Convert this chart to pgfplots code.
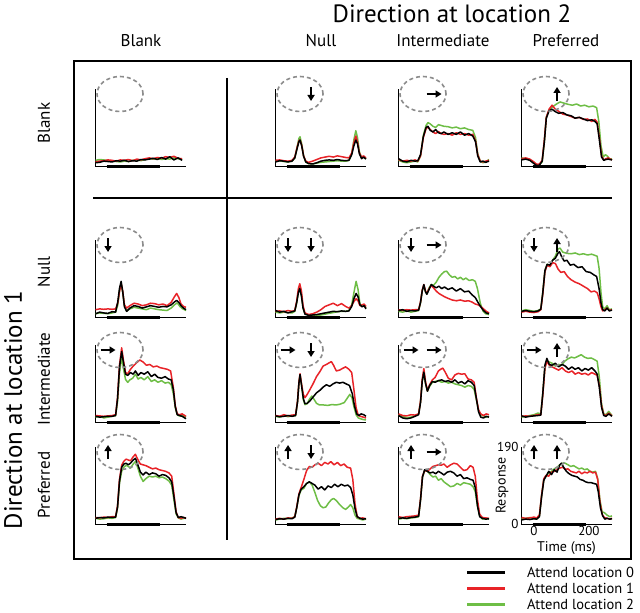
\documentclass[border=0pt]{standalone}
\usepackage{fontspec}
\setmainfont{PT Sans}
\usepackage{pgfplots}
\pgfplotsset{compat=1.18}
\usetikzlibrary{arrows.meta}
\definecolor{rd}{RGB}{232,35,40}
\definecolor{gn}{RGB}{110,190,70}
\definecolor{gy}{RGB}{140,140,140}
\pgfplotsset{
  panel/.style={anchor=south west, scale only axis, width=91pt, height=77pt,
    xmin=-47, xmax=284, ymin=0, ymax=190,
    axis x line*=bottom, axis y line*=left,
    axis line style={line width=0.7pt,-},
    xtick=\empty, ytick=\empty, clip=false},
  G/.style={gn, line width=1.5pt, mark=none, line join=round},
  R/.style={rd, line width=1.5pt, mark=none, line join=round},
  K/.style={black, line width=1.5pt, mark=none, line join=round},
  S/.style={black, line width=3.5pt, mark=none},
}
\tikzset{
  ell/.style={gy, line width=1.6pt, dash pattern=on 4pt off 3pt},
  arr/.style={line width=1.8pt, -{Triangle[length=6pt,width=7pt]}},
}
\newcommand\Ell{\draw[ell] (rel axis cs:0.275,0.935) ellipse [x radius=23pt, y radius=17.5pt];}
\newcommand\aD[1]{\draw[arr] ([yshift=7pt]rel axis cs:#1,0.935) -- ([yshift=-7pt]rel axis cs:#1,0.935);}
\newcommand\aU[1]{\draw[arr] ([yshift=-7pt]rel axis cs:#1,0.935) -- ([yshift=7pt]rel axis cs:#1,0.935);}
\newcommand\aR[1]{\draw[arr] ([xshift=-7.5pt]rel axis cs:#1,0.935) -- ([xshift=7.5pt]rel axis cs:#1,0.935);}
\newcommand\Stim{\addplot[S] coordinates {(-5,-1)(190,-1)};}
\newcommand\hd{\fontsize{17}{20}\selectfont}
\newcommand\bigt{\fontsize{25}{28}\selectfont}
\begin{document}
\begin{tikzpicture}[x=1pt,y=1pt]
\useasboundingbox (0,0) rectangle (640,613);
\draw[line width=2pt] (74,54) rectangle (631,552);
\draw[line width=1.8pt] (93,415) -- (612,415);
\draw[line width=1.8pt] (227,535) -- (227,73);
\node at (452,599) {\bigt Direction at location 2};
\node at (141,572) {\hd Blank};
\node at (321,572) {\hd Null};
\node at (443,572) {\hd Intermediate};
\node at (566,572) {\hd Preferred};
\node[rotate=90] at (44,490) {\hd Blank};
\node[rotate=90] at (44,341) {\hd Null};
\node[rotate=90] at (44,234) {\hd Intermediate};
\node[rotate=90] at (44,128) {\hd Preferred};
\node[rotate=90] at (13,203) {\bigt Direction at location 1};
% legend
\draw[line width=3pt,black] (467,40) -- (505,40);
\draw[line width=3pt,rd] (467,24) -- (505,24);
\draw[line width=3pt,gn] (467,8) -- (505,8);
\node[anchor=base west,inner sep=0pt] at (527,35) {\fontsize{14.5}{16}\selectfont Attend location 0};
\node[anchor=base west,inner sep=0pt] at (527,19) {\fontsize{14.5}{16}\selectfont Attend location 1};
\node[anchor=base west,inner sep=0pt] at (527,3) {\fontsize{14.5}{16}\selectfont Attend location 2};

% ===== Row 1: location 1 blank =====
\begin{axis}[panel, at={(95pt,447pt)}]
\addplot[G] coordinates {(-45,14)(-30,16)(-15,15)(0,13)(15,12)(30,11)(45,10)(60,12)(75,11)(90,14)(105,15)(120,13)(135,16)(150,18)(165,17)(180,19)(195,16)(210,18)(225,17)(240,20)(255,18)(270,16)};
\addplot[R] coordinates {(-45,10)(-30,12)(-15,13)(0,15)(15,14)(30,12)(45,15)(60,14)(75,16)(90,13)(105,17)(120,15)(135,18)(150,20)(165,18)(180,21)(195,19)(210,23)(225,21)(240,24)(255,19)(270,18)};
\addplot[K] coordinates {(-45,8)(-30,9)(-15,12)(0,11)(15,10)(30,13)(45,12)(60,14)(75,11)(90,13)(105,12)(120,16)(135,15)(150,17)(165,19)(180,16)(195,21)(210,17)(225,23)(240,15)(255,20)(270,14)};
\Stim \Ell
\end{axis}

\begin{axis}[panel, at={(275pt,447pt)}]
\addplot[G] coordinates {(-45,12)(-30,13)(-15,11)(0,10)(15,12)(25,20)(33,45)(40,68)(44,72)(50,55)(57,25)(65,10)(75,6)(90,5)(105,7)(120,9)(135,10)(150,11)(165,12)(180,13)(195,12)(210,12)(222,14)(232,30)(240,65)(247,87)(253,70)(260,35)(268,20)(275,22)(284,18)};
\addplot[R] coordinates {(-45,14)(-30,15)(-15,13)(0,12)(15,14)(25,22)(33,45)(40,62)(44,64)(50,52)(57,25)(65,12)(75,9)(90,12)(105,16)(120,20)(135,22)(150,24)(165,22)(180,25)(195,23)(210,21)(222,20)(232,32)(240,58)(247,74)(253,60)(260,32)(268,22)(275,25)(284,20)};
\addplot[K] coordinates {(-45,10)(-30,13)(-15,12)(0,10)(15,12)(25,20)(33,42)(40,60)(44,64)(50,50)(57,24)(65,10)(75,6)(90,5)(105,8)(120,12)(135,14)(150,15)(165,14)(180,16)(195,14)(210,13)(222,14)(232,28)(240,50)(247,64)(253,55)(260,30)(268,18)(275,22)(284,17)};
\Stim \Ell \aD{0.396}
\end{axis}

\begin{axis}[panel, at={(398pt,447pt)}]
\addplot[G] coordinates {(-45,14)(-30,10)(-15,8)(0,10)(15,12)(25,10)(35,25)(45,75)(55,100)(62,107)(70,104)(80,98)(90,95)(100,102)(110,100)(120,98)(135,97)(150,94)(165,96)(180,92)(195,94)(210,90)(225,88)(235,70)(243,30)(252,12)(262,8)(272,10)(284,16)};
\addplot[R] coordinates {(-45,16)(-30,12)(-15,14)(0,12)(15,15)(25,12)(35,25)(45,70)(55,92)(62,96)(70,90)(80,84)(90,80)(100,85)(110,80)(120,78)(135,80)(150,76)(165,82)(180,78)(195,80)(210,76)(225,78)(235,62)(243,28)(252,12)(262,10)(272,12)(284,14)};
\addplot[K] coordinates {(-45,18)(-30,12)(-15,10)(0,14)(15,12)(25,13)(35,28)(45,72)(55,95)(62,98)(70,88)(80,84)(90,90)(100,82)(110,80)(120,84)(135,78)(150,82)(165,78)(180,84)(195,76)(210,80)(225,74)(235,60)(243,25)(252,10)(262,12)(272,9)(284,12)};
\Stim \Ell \aR{0.396}
\end{axis}

\begin{axis}[panel, at={(521pt,447pt)}]
\addplot[G] coordinates {(-45,20)(-30,18)(-15,15)(0,8)(10,3)(20,3)(30,10)(38,60)(45,120)(55,138)(66,145)(80,152)(95,158)(110,155)(125,152)(140,150)(155,153)(170,148)(185,150)(200,146)(215,148)(228,144)(236,110)(244,50)(252,22)(260,28)(268,24)(276,16)(284,18)};
\addplot[R] coordinates {(-45,18)(-30,20)(-15,17)(0,10)(10,4)(20,5)(30,14)(38,65)(45,120)(55,140)(66,150)(78,140)(90,135)(105,128)(120,126)(135,122)(150,118)(165,120)(180,115)(195,116)(210,110)(222,115)(230,108)(238,70)(246,25)(254,15)(262,18)(270,20)(284,15)};
\addplot[K] coordinates {(-45,15)(-30,17)(-15,14)(0,6)(10,1)(20,2)(30,12)(38,60)(45,118)(55,136)(66,140)(78,134)(90,130)(105,132)(120,126)(135,124)(150,118)(165,120)(180,116)(195,112)(210,114)(222,110)(230,104)(238,65)(246,22)(254,14)(262,16)(270,17)(284,15)};
\Stim \Ell \aU{0.396}
\end{axis}

% ===== Row 2: location 1 null =====
\begin{axis}[panel, at={(95pt,296pt)}]
\addplot[G] coordinates {(-45,8)(-30,10)(-15,9)(0,8)(15,10)(28,12)(36,30)(42,65)(48,82)(54,60)(60,28)(68,15)(80,20)(95,24)(110,22)(125,20)(140,18)(155,22)(170,20)(185,18)(200,17)(215,16)(230,22)(242,30)(252,35)(262,26)(272,20)(284,16)};
\addplot[R] coordinates {(-45,18)(-30,20)(-15,19)(0,20)(15,19)(28,20)(36,35)(42,62)(48,83)(54,62)(60,30)(68,22)(80,28)(95,34)(110,32)(125,28)(140,30)(155,34)(170,33)(185,30)(200,32)(215,28)(230,36)(242,50)(250,58)(258,48)(266,32)(275,26)(284,24)};
\addplot[K] coordinates {(-45,8)(-30,12)(-15,10)(0,9)(15,13)(28,12)(36,38)(42,70)(48,88)(54,62)(60,25)(68,14)(80,22)(95,28)(110,26)(125,22)(140,25)(155,28)(170,26)(185,24)(200,26)(215,25)(230,30)(242,37)(250,41)(258,36)(266,28)(275,22)(284,18)};
\Stim \Ell \aD{0.143}
\end{axis}

\begin{axis}[panel, at={(275pt,296pt)}]
\addplot[G] coordinates {(-45,12)(-30,10)(-15,12)(0,11)(15,10)(25,14)(32,35)(38,62)(43,74)(49,55)(55,22)(62,8)(75,5)(90,4)(105,4)(120,5)(135,7)(150,9)(165,11)(180,13)(195,14)(210,14)(222,16)(232,30)(240,60)(248,88)(255,68)(262,32)(270,28)(277,30)(284,22)};
\addplot[R] coordinates {(-45,14)(-30,15)(-15,13)(0,16)(15,14)(25,16)(32,40)(38,70)(43,82)(49,65)(55,28)(62,10)(75,6)(90,8)(105,12)(120,18)(135,26)(150,30)(165,34)(180,28)(195,33)(210,26)(222,22)(232,28)(240,38)(248,45)(255,40)(262,28)(270,30)(277,32)(284,26)};
\addplot[K] coordinates {(-45,16)(-30,12)(-15,14)(0,10)(15,13)(25,15)(32,36)(38,60)(43,70)(49,52)(55,22)(62,7)(75,4)(90,5)(105,6)(120,8)(135,10)(150,12)(165,14)(180,13)(195,15)(210,14)(222,15)(232,26)(240,45)(248,58)(255,50)(262,30)(270,25)(277,28)(284,20)};
\Stim \Ell \aD{0.143} \aD{0.396}
\end{axis}

\begin{axis}[panel, at={(398pt,296pt)}]
\addplot[G] coordinates {(-45,14)(-30,12)(-15,15)(0,12)(15,14)(28,16)(35,35)(41,65)(47,78)(53,62)(58,58)(66,72)(74,80)(82,78)(92,86)(102,98)(112,106)(122,112)(130,113)(140,104)(150,98)(160,100)(170,94)(180,98)(190,92)(200,96)(212,90)(224,92)(234,88)(242,70)(252,35)(262,15)(272,8)(284,6)};
\addplot[R] coordinates {(-45,18)(-30,16)(-15,18)(0,17)(15,18)(28,18)(35,38)(41,66)(47,80)(53,64)(58,58)(66,70)(74,78)(82,72)(92,64)(102,58)(112,54)(122,50)(135,46)(150,42)(165,40)(180,42)(195,39)(210,40)(222,37)(234,32)(244,30)(254,26)(264,20)(274,14)(284,10)};
\addplot[K] coordinates {(-45,16)(-30,18)(-15,14)(0,16)(15,15)(28,17)(35,36)(41,64)(47,80)(53,62)(58,56)(66,68)(74,80)(82,76)(92,72)(102,76)(112,70)(122,74)(135,68)(150,72)(165,64)(180,70)(195,62)(210,64)(222,55)(234,48)(244,36)(254,25)(264,16)(274,10)(284,8)};
\Stim \Ell \aD{0.143} \aR{0.396}
\end{axis}

\begin{axis}[panel, at={(521pt,296pt)}]
\addplot[G] coordinates {(-45,15)(-30,18)(-15,16)(0,14)(15,16)(25,20)(32,60)(40,115)(48,130)(58,126)(68,140)(78,150)(88,168)(95,170)(105,160)(120,157)(135,156)(150,158)(165,154)(180,156)(195,153)(210,155)(222,152)(230,150)(237,120)(244,60)(250,25)(258,20)(266,28)(274,18)(284,20)};
\addplot[R] coordinates {(-45,12)(-30,14)(-15,12)(0,11)(15,13)(25,18)(32,55)(40,112)(48,128)(58,124)(68,134)(78,132)(88,118)(98,110)(110,112)(122,100)(135,92)(150,86)(165,82)(180,76)(195,70)(208,62)(220,64)(230,60)(237,45)(244,25)(250,15)(258,18)(266,22)(274,16)(284,18)};
\addplot[K] coordinates {(-45,14)(-30,16)(-15,14)(0,13)(15,15)(25,19)(32,58)(40,114)(48,130)(58,128)(68,140)(78,145)(88,158)(93,161)(100,150)(110,138)(120,140)(132,128)(145,130)(160,122)(175,124)(190,112)(205,110)(218,104)(228,100)(237,70)(244,35)(250,18)(258,15)(266,22)(274,15)(284,17)};
\Stim \Ell \aD{0.143} \aU{0.396}
\end{axis}

% ===== Row 3: location 1 intermediate =====
\begin{axis}[panel, at={(95pt,191pt)}]
\addplot[G] coordinates {(-45,12)(-30,14)(-15,10)(0,12)(15,14)(28,16)(35,50)(42,120)(50,161)(57,130)(64,105)(72,98)(80,104)(90,108)(100,118)(110,106)(120,110)(132,104)(145,112)(158,100)(170,104)(182,98)(195,102)(208,96)(220,98)(230,92)(238,70)(245,35)(252,18)(260,15)(270,16)(284,12)};
\addplot[R] coordinates {(-45,16)(-30,15)(-15,14)(0,15)(15,16)(28,18)(35,60)(42,140)(50,183)(57,150)(64,122)(72,119)(82,130)(92,138)(104,146)(116,153)(128,148)(140,140)(152,142)(165,136)(178,138)(190,134)(204,132)(216,130)(228,126)(238,85)(245,40)(252,20)(260,18)(270,20)(284,14)};
\addplot[K] coordinates {(-45,14)(-30,12)(-15,13)(0,14)(15,14)(28,16)(35,58)(42,135)(50,174)(57,145)(64,118)(72,115)(82,122)(92,118)(100,126)(110,115)(120,122)(132,118)(145,124)(158,112)(170,118)(182,110)(195,108)(208,112)(220,106)(230,104)(238,80)(245,38)(252,18)(260,16)(270,14)(284,8)};
\Stim \Ell \aR{0.143}
\end{axis}

\begin{axis}[panel, at={(275pt,191pt)}]
\addplot[G] coordinates {(-45,14)(-30,12)(-15,16)(0,13)(15,15)(28,16)(35,50)(40,95)(44,116)(50,90)(56,55)(62,43)(70,45)(78,56)(87,64)(95,56)(104,46)(115,42)(130,42)(145,41)(160,43)(175,42)(190,44)(205,48)(215,58)(225,68)(233,60)(240,38)(248,18)(256,10)(264,8)(274,6)(284,5)};
\addplot[R] coordinates {(-45,16)(-30,14)(-15,18)(0,15)(15,17)(28,18)(35,52)(40,98)(44,119)(50,92)(56,68)(62,60)(70,68)(80,80)(92,95)(104,112)(116,124)(128,138)(140,142)(150,146)(158,149)(166,140)(176,126)(188,128)(198,132)(210,136)(222,130)(232,122)(240,80)(248,35)(256,16)(264,14)(274,12)(284,10)};
\addplot[K] coordinates {(-45,15)(-30,13)(-15,14)(0,16)(15,14)(28,16)(35,50)(40,96)(44,117)(50,88)(56,58)(62,45)(70,46)(80,52)(92,62)(104,72)(116,78)(128,86)(140,92)(152,88)(164,94)(176,98)(188,96)(200,98)(212,94)(224,90)(234,70)(242,40)(250,20)(258,16)(266,20)(276,18)(284,14)};
\Stim \Ell \aR{0.143} \aD{0.396}
\end{axis}

\begin{axis}[panel, at={(398pt,191pt)}]
\addplot[G] coordinates {(-45,18)(-30,14)(-15,10)(0,12)(15,15)(28,20)(35,50)(41,100)(47,124)(53,95)(60,76)(68,88)(78,98)(88,100)(100,102)(112,98)(124,100)(136,96)(148,98)(160,94)(172,92)(184,90)(196,86)(208,90)(220,88)(230,80)(238,55)(246,28)(254,18)(264,15)(274,12)(284,14)};
\addplot[R] coordinates {(-45,20)(-30,16)(-15,15)(0,18)(15,17)(28,20)(35,52)(41,105)(47,132)(53,100)(60,77)(68,92)(78,104)(88,110)(100,126)(108,130)(116,133)(124,124)(136,108)(148,104)(160,116)(172,120)(184,118)(196,119)(208,106)(220,104)(230,98)(238,60)(246,30)(254,20)(264,16)(274,20)(284,18)};
\addplot[K] coordinates {(-45,16)(-30,10)(-15,8)(0,10)(15,14)(28,18)(35,48)(41,100)(47,123)(53,96)(60,76)(68,90)(78,100)(88,98)(100,102)(112,104)(124,100)(136,102)(148,98)(160,104)(172,96)(184,100)(196,94)(208,102)(220,98)(230,90)(238,58)(246,25)(254,12)(264,10)(274,14)(284,12)};
\Stim \Ell \aR{0.143} \aR{0.396}
\end{axis}

\begin{axis}[panel, at={(521pt,191pt)}]
\addplot[G] coordinates {(-45,12)(-30,14)(-15,16)(0,18)(15,22)(25,20)(32,70)(40,135)(47,150)(56,148)(66,145)(78,138)(90,142)(100,140)(112,150)(124,156)(136,160)(148,158)(160,162)(172,166)(184,160)(196,157)(208,158)(220,154)(230,150)(238,110)(246,45)(254,20)(262,18)(272,26)(284,16)};
\addplot[R] coordinates {(-45,14)(-30,15)(-15,14)(0,16)(15,18)(25,18)(32,65)(40,132)(47,150)(56,140)(66,136)(78,132)(90,128)(102,134)(114,126)(126,122)(138,126)(150,118)(162,122)(174,118)(186,120)(198,116)(210,122)(222,118)(230,115)(238,90)(246,40)(254,18)(262,16)(272,22)(284,15)};
\addplot[K] coordinates {(-45,15)(-30,12)(-15,14)(0,15)(15,16)(25,17)(32,68)(40,140)(47,157)(56,142)(66,140)(78,145)(90,136)(102,142)(114,138)(126,130)(138,136)(150,130)(162,134)(174,126)(186,132)(198,128)(210,134)(222,126)(230,118)(238,85)(246,36)(254,16)(262,14)(272,20)(284,14)};
\Stim \Ell \aR{0.143} \aU{0.396}
\end{axis}

% ===== Row 4: location 1 preferred =====
\begin{axis}[panel, at={(95pt,89pt)}]
\addplot[G] coordinates {(-45,14)(-30,12)(-15,13)(0,15)(15,14)(28,16)(35,40)(42,100)(50,130)(58,140)(66,145)(74,142)(82,138)(92,148)(100,154)(108,140)(118,118)(128,105)(138,112)(150,118)(162,116)(174,118)(186,114)(198,116)(210,112)(222,106)(232,96)(240,60)(248,25)(256,15)(266,12)(276,14)(284,15)};
\addplot[R] coordinates {(-45,16)(-30,15)(-15,17)(0,16)(15,18)(28,18)(35,45)(42,110)(50,145)(58,155)(66,160)(74,158)(82,156)(92,166)(100,172)(108,160)(118,148)(128,146)(138,144)(150,140)(162,136)(174,138)(186,134)(198,132)(210,130)(222,126)(232,118)(240,75)(248,30)(256,16)(266,14)(276,16)(284,14)};
\addplot[K] coordinates {(-45,14)(-30,16)(-15,15)(0,17)(15,16)(28,17)(35,42)(42,105)(50,140)(58,148)(66,150)(74,146)(82,150)(92,158)(100,162)(108,148)(118,128)(128,121)(138,128)(150,122)(162,126)(174,124)(186,118)(198,122)(210,120)(222,114)(232,104)(240,68)(248,28)(256,16)(266,18)(276,16)(284,14)};
\Stim \Ell \aU{0.143}
\end{axis}

\begin{axis}[panel, at={(275pt,89pt)}]
\addplot[G] coordinates {(-45,10)(-30,12)(-15,14)(0,13)(15,15)(25,18)(32,40)(40,70)(48,84)(58,88)(68,100)(78,104)(88,96)(98,78)(108,58)(118,45)(128,40)(138,42)(148,52)(158,60)(166,63)(176,58)(188,48)(200,40)(210,36)(220,42)(228,48)(236,40)(244,22)(252,14)(262,12)(272,10)(284,12)};
\addplot[R] coordinates {(-45,12)(-30,14)(-15,12)(0,15)(15,14)(25,18)(32,42)(40,74)(48,90)(58,110)(68,132)(78,142)(88,140)(98,146)(110,150)(122,144)(134,152)(146,148)(156,154)(168,146)(180,152)(192,144)(204,148)(216,140)(228,138)(236,110)(244,50)(252,18)(262,14)(272,15)(284,13)};
\addplot[K] coordinates {(-45,11)(-30,13)(-15,12)(0,14)(15,13)(25,17)(32,40)(40,72)(48,86)(58,92)(68,100)(78,104)(88,100)(98,96)(110,86)(122,92)(134,84)(146,94)(158,90)(170,98)(182,92)(194,98)(206,94)(218,96)(228,90)(236,72)(244,38)(252,18)(262,14)(272,12)(284,13)};
\Stim \Ell \aU{0.143} \aD{0.396}
\end{axis}

\begin{axis}[panel, at={(398pt,89pt)}]
\addplot[G] coordinates {(-45,12)(-30,14)(-15,13)(0,15)(15,16)(28,18)(35,60)(42,115)(50,132)(60,130)(70,122)(80,116)(90,118)(100,108)(110,112)(120,104)(132,98)(144,92)(156,94)(168,100)(180,96)(192,102)(204,100)(216,98)(226,92)(234,80)(242,45)(250,20)(260,12)(272,14)(284,12)};
\addplot[R] coordinates {(-45,18)(-30,16)(-15,18)(0,19)(15,20)(28,22)(35,62)(42,118)(50,132)(60,130)(70,136)(80,142)(90,144)(100,146)(110,145)(120,148)(132,140)(144,146)(156,150)(168,148)(180,140)(192,132)(204,134)(216,144)(226,140)(234,118)(242,60)(250,24)(260,16)(272,15)(284,14)};
\addplot[K] coordinates {(-45,14)(-30,15)(-15,14)(0,16)(15,17)(28,19)(35,60)(42,116)(50,134)(60,130)(70,126)(80,128)(90,124)(100,130)(110,126)(120,121)(132,128)(144,130)(156,126)(168,118)(180,122)(192,112)(204,114)(216,110)(226,108)(234,90)(242,45)(250,18)(260,14)(272,12)(284,13)};
\Stim \Ell \aU{0.143} \aR{0.396}
\end{axis}

\begin{axis}[panel, at={(521pt,89pt)},
  xtick={0,200}, ytick={0,190}, tick style={draw=none},
  /pgf/number format/assume math mode=true,
  tick label style={font=\fontsize{13}{14}\selectfont},
  yticklabel style={xshift=1pt},
  xticklabel style={yshift=1pt},
  xlabel={Time (ms)}, ylabel={Response},
  every axis x label/.style={at={([yshift=-24pt]rel axis cs:0.5,0)}, anchor=center, font=\fontsize{14}{15}\selectfont},
  every axis y label/.style={at={([xshift=-19pt]rel axis cs:0,0.5)}, anchor=center, rotate=90, font=\fontsize{14}{15}\selectfont}]
\addplot[G] coordinates {(-45,12)(-30,14)(-15,16)(0,14)(10,12)(20,20)(28,70)(36,110)(44,118)(54,126)(64,130)(74,136)(84,140)(94,146)(104,150)(114,150)(124,146)(134,142)(144,144)(154,140)(164,136)(174,138)(184,134)(194,136)(204,130)(214,128)(224,130)(232,112)(240,60)(248,30)(256,28)(266,22)(276,18)(284,20)};
\addplot[R] coordinates {(-45,16)(-30,14)(-15,15)(0,17)(10,15)(20,22)(28,72)(36,112)(44,120)(54,118)(64,128)(74,130)(84,134)(94,138)(104,140)(114,135)(124,136)(134,130)(144,128)(154,126)(164,130)(174,124)(184,128)(194,126)(204,130)(214,126)(224,128)(232,110)(240,55)(248,24)(256,16)(266,14)(276,12)(284,14)};
\addplot[K] coordinates {(-45,10)(-30,12)(-15,11)(0,13)(10,12)(20,18)(28,68)(36,108)(44,118)(54,130)(64,122)(74,134)(84,128)(94,146)(100,150)(108,140)(118,130)(128,124)(138,120)(148,118)(158,116)(168,110)(178,108)(188,104)(198,102)(208,102)(218,100)(228,98)(234,80)(242,40)(250,20)(258,12)(266,14)(276,12)(284,13)};
\Stim \Ell \aU{0.143} \aU{0.396}
\end{axis}
\end{tikzpicture}
\end{document}
